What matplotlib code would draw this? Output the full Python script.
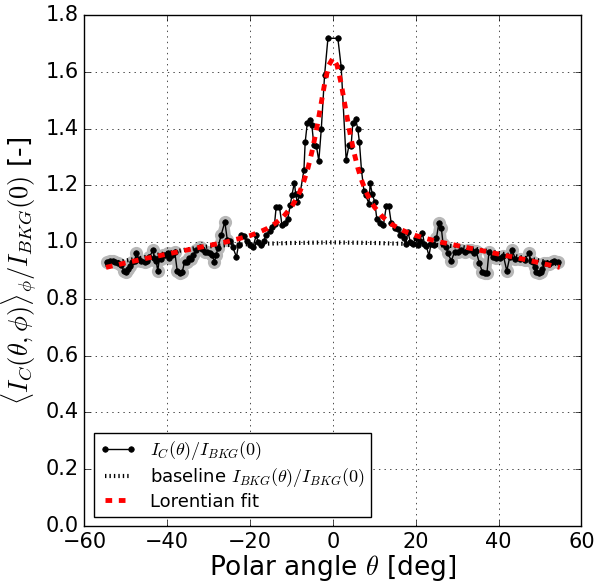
import numpy as np
import matplotlib
matplotlib.use('Agg')
import matplotlib.pyplot as plt

plt.style.use('classic')
plt.rcParams['mathtext.fontset'] = 'cm'
plt.rcParams['figure.facecolor'] = 'white'
plt.rcParams['savefig.facecolor'] = 'white'

# measured intensity ratio I_C(theta)/I_BKG(0)
theta = [-54.5, -53.8, -53.2, -52.6, -51.8, -51.1, -50.5, -50.0, -49.5, -49.1,
         -48.6, -47.9, -47.5, -47.0, -46.3, -45.5, -44.8, -44.3, -43.5, -43.1,
         -42.7, -42.3, -41.9, -41.5, -41.1, -40.5, -39.9, -39.5, -38.8, -38.2,
         -37.6, -37.0, -36.4, -35.8, -35.3, -34.7, -34.2, -33.8, -33.0, -32.2,
         -31.6, -31.0, -30.4, -29.8, -29.2, -28.6, -28.2, -27.8, -27.0, -26.1,
         -25.5, -24.8, -24.2, -23.3, -22.8, -22.1, -21.5, -20.8, -20.1, -19.3,
         -18.5, -18.1, -17.3, -16.7, -16.1, -15.3, -14.7, -14.1, -13.7, -12.9,
         -12.3, -11.6, -10.9, -10.3, -9.9, -9.3, -9.0, -8.6, -8.0, -7.0,
         -6.7, -6.2, -5.6, -5.1, -4.6, -4.0, -3.4, -2.8, -2.0, -1.2,
         1.2, 2.0, 3.2, 3.9, 4.4, 4.8, 5.5, 6.0, 6.4, 6.9,
         7.5, 7.9, 8.7, 9.0, 9.5, 10.1, 10.6, 11.3, 12.2, 12.9,
         13.5, 14.1, 14.9, 15.7, 16.3, 16.7, 17.1, 17.6, 18.1, 18.7,
         19.3, 20.0, 20.5, 21.0, 21.6, 22.1, 22.6, 23.2, 23.7, 24.3,
         25.0, 25.6, 26.2, 26.6, 27.4, 27.8, 28.6, 29.4, 30.2, 31.0,
         31.8, 32.6, 33.4, 34.0, 34.6, 35.4, 36.1, 36.7, 37.2, 37.7,
         38.6, 39.4, 40.3, 41.2, 42.0, 42.7, 43.3, 44.1, 45.1, 46.3,
         47.3, 47.8, 48.3, 48.7, 49.1, 49.7, 50.2, 50.6, 51.1, 51.7,
         52.2, 52.8, 53.5, 54.4]
ratio = [0.931, 0.935, 0.933, 0.930, 0.925, 0.919, 0.899, 0.895, 0.905, 0.915,
         0.930, 0.934, 0.960, 0.940, 0.935, 0.931, 0.935, 0.946, 0.972, 0.945,
         0.935, 0.898, 0.945, 0.940, 0.954, 0.955, 0.962, 0.945, 0.955, 0.966,
         0.899, 0.890, 0.895, 0.931, 0.930, 0.945, 0.940, 0.954, 0.972, 0.983,
         0.975, 0.965, 0.965, 0.960, 0.955, 0.931, 0.955, 0.978, 1.025, 1.071,
         1.007, 1.005, 0.983, 0.948, 0.990, 1.025, 1.020, 1.005, 0.989, 0.983,
         1.025, 1.000, 0.989, 1.005, 1.025, 1.040, 1.054, 1.064, 1.124, 1.124,
         1.060, 1.066, 1.083, 1.130, 1.165, 1.210, 1.170, 1.142, 1.165, 1.254,
         1.351, 1.418, 1.430, 1.414, 1.342, 1.340, 1.286, 1.400, 1.590, 1.718,
         1.718, 1.617, 1.289, 1.342, 1.340, 1.418, 1.432, 1.400, 1.353, 1.254,
         1.180, 1.165, 1.136, 1.207, 1.170, 1.142, 1.083, 1.066, 1.060, 1.127,
         1.127, 1.066, 1.048, 1.045, 1.025, 1.030, 1.013, 0.993, 1.036, 1.001,
         0.995, 1.013, 0.990, 1.005, 1.033, 0.995, 0.985, 0.951, 0.995, 0.990,
         1.013, 1.068, 1.048, 0.995, 0.983, 0.960, 0.934, 0.966, 0.966, 0.972,
         0.966, 0.972, 0.972, 0.962, 0.968, 0.925, 0.895, 0.890, 0.891, 0.966,
         0.948, 0.945, 0.943, 0.950, 0.899, 0.946, 0.972, 0.939, 0.941, 0.937,
         0.960, 0.935, 0.931, 0.913, 0.895, 0.890, 0.895, 0.905, 0.925, 0.925,
         0.922, 0.931, 0.935, 0.931]

# baseline I_BKG(theta)/I_BKG(0)
theta_base = [-55, -50, -45, -40, -35, -30, -25, -20, -15, -10, -5, 0,
              5, 10, 15, 20, 25, 30, 35, 40, 45, 50, 55]
base = [0.920, 0.935, 0.948, 0.962, 0.975, 0.985, 0.990, 0.993, 0.995, 0.997, 0.998, 0.999,
        0.998, 0.997, 0.995, 0.993, 0.990, 0.985, 0.975, 0.962, 0.948, 0.935, 0.920]

# Lorentzian fit
theta_fit = [-54.8, -50, -45, -40, -35, -30, -26, -23, -20, -18, -16, -14, -12, -10,
             -9, -8, -7, -6, -5, -4, -3, -2, -1, 0, 1, 2, 3, 4, 5, 6, 7, 8, 9,
             10, 12, 14, 16, 18, 20, 23, 26, 30, 35, 40, 45, 50, 54.8]
fit = [0.911, 0.927, 0.943, 0.958, 0.973, 0.988, 1.000, 1.011, 1.023, 1.034, 1.047, 1.065,
       1.089, 1.124, 1.148, 1.177, 1.215, 1.262, 1.322, 1.393, 1.475, 1.558, 1.623, 1.648,
       1.623, 1.558, 1.475, 1.393, 1.322, 1.262, 1.215, 1.177, 1.148, 1.124, 1.089, 1.065,
       1.047, 1.034, 1.023, 1.011, 1.000, 0.988, 0.973, 0.958, 0.943, 0.927, 0.911]

fig = plt.figure(figsize=(5.95, 5.84), dpi=100)
ax = fig.add_axes([0.142, 0.0993, 0.835, 0.875])

th = np.array(theta)
r = np.array(ratio)
# grey halo on the wing points
for m in (th <= -25, th >= 25):
    ax.plot(th[m], r[m], '-o', color='0.72', lw=6, ms=9.5, mew=0, zorder=1)

ax.plot(theta, ratio, 'k-o', lw=1, ms=4, mec='k', zorder=3,
        label=r'$I_C(\theta)/I_{BKG}(0)$')
ax.plot(theta_base, base, color='k', ls=':', lw=3, dashes=(1, 2.2), zorder=2,
        label=r'baseline $I_{BKG}(\theta)/I_{BKG}(0)$')
ax.plot(theta_fit, fit, color='r', ls='--', lw=3.5, dashes=(4.8, 4.8), zorder=4,
        label='Lorentian fit')

ax.set_xlim(-60, 60)
ax.set_ylim(0, 1.8)
ax.grid(True)
ax.tick_params(labelsize=15)
ax.set_xlabel(r'Polar angle $\theta$ [deg]', fontsize=19, labelpad=1)
ax.set_ylabel(r'$\langle I_C(\theta,\phi)\rangle_\phi/I_{BKG}(0)$ [-]', fontsize=19,
              labelpad=4)
ax.legend(loc='lower left', fontsize=13, numpoints=2, labelspacing=0.2,
          borderpad=0.35, handlelength=2.0)

fig.savefig('out.png', dpi=100)
